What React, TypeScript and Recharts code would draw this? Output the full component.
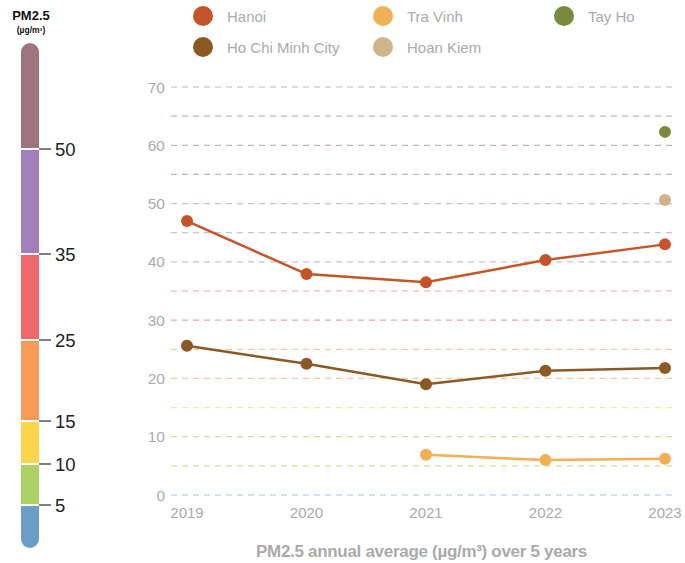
import { LineChart, Line, XAxis, YAxis, ReferenceLine, Label } from "recharts";

// PM2.5 annual averages (µg/m³)
const years = ["2019", "2020", "2021", "2022", "2023"];
const hanoi = [47.0, 37.9, 36.5, 40.3, 43.0];
const hoChiMinh = [25.6, 22.5, 19.0, 21.3, 21.8];
const traVinh = [null, null, 6.9, 6.0, 6.2];
const tayHo = [null, null, null, null, 62.3];
const hoanKiem = [null, null, null, null, 50.6];

const yTicks = [0, 10, 20, 30, 40, 50, 60, 70];
const gridValues = [0, 5, 10, 15, 20, 25, 30, 35, 40, 45, 50, 55, 60, 65, 70];
const gridColors = [
  "#a3c2e4", "#cae3a0", "#cae3a0", "#fce49a", "#fbc7a0", "#fbc7a0",
  "#f5a4a6", "#f5a4a6", "#d2bae2", "#d2bae2", "#d2bae2",
  "#d0adb8", "#d0adb8", "#d0adb8", "#d0adb8",
];

// colour scale on the left
const bandLimits = [5, 10, 15, 25, 35, 50];
const bandColors = ["#6b9dc7", "#abd063", "#fdd54b", "#f99b57", "#f0686c", "#a27fbb", "#a0737f"];

const series = [
  { name: "Hanoi", key: "hanoi", color: "#c4552b", width: 2.5 },
  { name: "Ho Chi Minh City", key: "hcmc", color: "#8b5a24", width: 2.5 },
  { name: "Tra Vinh", key: "traVinh", color: "#f1af56", width: 2.5 },
  { name: "Hoan Kiem", key: "hoanKiem", color: "#cfb38a", width: 2.5 },
  { name: "Tay Ho", key: "tayHo", color: "#788a3c", width: 2.5 },
];

const legendOrder = [
  ["Hanoi", "Tra Vinh", "Tay Ho"],
  ["Ho Chi Minh City", "Hoan Kiem"],
];

const data = years.map((year, i) => ({
  year,
  hanoi: hanoi[i],
  hcmc: hoChiMinh[i],
  traVinh: traVinh[i],
  tayHo: tayHo[i],
  hoanKiem: hoanKiem[i],
}));

const FONT = "'Liberation Sans', Arial, Helvetica, sans-serif";

// pixel stops of the colour bar (bottom -> top)
const barStops = [548, 505, 464, 421, 340, 254, 149, 43];

function ColorBar() {
  const x = 21;
  const w = 18;
  return (
    <svg width={110} height={563} style={{ position: "absolute", left: 0, top: 0 }}>
      <text x={31} y={20} textAnchor="middle" fontFamily={FONT} fontWeight="bold" fontSize={13} fill="#111">
        PM2.5
      </text>
      <text x={31} y={33} textAnchor="middle" fontFamily={FONT} fontWeight="bold" fontSize={8.5} fill="#111">
        (µg/m³)
      </text>
      <defs>
        <clipPath id="barClip">
          <rect x={x} y={barStops[7]} width={w} height={barStops[0] - barStops[7]} rx={9} ry={9} />
        </clipPath>
      </defs>
      <g clipPath="url(#barClip)">
        {bandColors.map((c, i) => (
          <rect key={i} x={x} y={barStops[i + 1]} width={w} height={barStops[i] - barStops[i + 1]} fill={c} />
        ))}
        {bandLimits.map((_, i) => (
          <rect key={"s" + i} x={x} y={barStops[i + 1] - 1} width={w} height={2} fill="#fff" />
        ))}
      </g>
      {bandLimits.map((v, i) => (
        <g key={"t" + v}>
          <line x1={x + w} x2={51} y1={barStops[i + 1]} y2={barStops[i + 1]} stroke="#555" strokeWidth={1.5} />
          <text x={55} y={barStops[i + 1]} dy="0.36em" fontFamily={FONT} fontSize={18.5} fill="#222">
            {v}
          </text>
        </g>
      ))}
    </svg>
  );
}

function TopLegend() {
  const colX = [193, 373, 554];
  const rowY = [16, 47];
  return (
    <>
      {legendOrder.map((row, r) =>
        row.map((name, c) => {
          const s = series.find((d) => d.name === name)!;
          return (
            <div
              key={name}
              style={{
                position: "absolute",
                left: colX[c],
                top: rowY[r] - 10,
                height: 20,
                display: "flex",
                alignItems: "center",
                fontFamily: FONT,
                fontSize: 15,
                color: "#aaa",
                whiteSpace: "nowrap",
              }}
            >
              <span
                style={{
                  width: 20,
                  height: 20,
                  borderRadius: 10,
                  background: s.color,
                  display: "inline-block",
                  marginRight: 14,
                }}
              />
              {name}
            </div>
          );
        })
      )}
    </>
  );
}

export default function App() {
  return (
    <div style={{ position: "absolute", left: 0, top: 0, width: 685, height: 563, background: "#fff" }}>
      <LineChart width={685} height={563} data={data} margin={{ top: 87, right: 13, bottom: 0, left: 0 }}>
        <XAxis
          dataKey="year"
          height={68}
          padding={{ left: 16, right: 7 }}
          axisLine={false}
          tickLine={false}
          tickMargin={6}
          tick={{ fill: "#aaa", fontSize: 15, fontFamily: FONT }}
        >
          <Label
            value="PM2.5 annual average (µg/m³) over 5 years"
            position="insideBottom"
            offset={6}
            style={{
              fill: "#aaa",
              fontSize: 17,
              fontWeight: "bold",
              letterSpacing: -0.3,
              fontFamily: "'Liberation Sans Narrow', 'Arial Narrow', " + FONT,
            }}
          />
        </XAxis>
        <YAxis
          width={171}
          domain={[0, 70]}
          ticks={yTicks}
          axisLine={false}
          tickLine={false}
          tickMargin={0}
          tick={{ fill: "#aaa", fontSize: 15.5, fontFamily: FONT }}
        />
        {gridValues.map((v, i) => (
          <ReferenceLine key={v} y={v} stroke={gridColors[i]} strokeWidth={1.2} strokeDasharray="6 5" />
        ))}
        {series.map((s) => (
          <Line
            key={s.key}
            type="linear"
            dataKey={s.key}
            name={s.name}
            stroke={s.color}
            strokeWidth={s.width}
            dot={{ r: 6, fill: s.color, stroke: s.color, strokeWidth: 0 }}
            activeDot={false}
            isAnimationActive={false}
          />
        ))}
      </LineChart>
      <ColorBar />
      <TopLegend />
    </div>
  );
}
